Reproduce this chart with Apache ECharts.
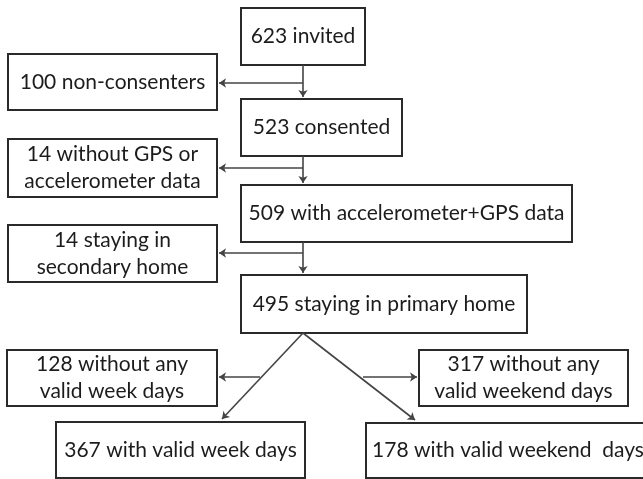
<!DOCTYPE html>
<html>
<head>
<meta charset="utf-8">
<script src="https://cdn.jsdelivr.net/npm/echarts@6/dist/echarts.min.js"></script>
<style>html,body{margin:0;padding:0;background:#fff}#c{width:643px;height:479px}</style>
</head>
<body>
<div id="c"></div>
<script>
// Flow counts and descriptions
const counts = [623, 100, 523, 14, 509, 14, 495, 128, 317, 367, 178];
const descriptions = [
  'invited',
  'non-consenters',
  'consented',
  'without GPS or\naccelerometer data',
  'with accelerometer+GPS data',
  'staying in\nsecondary home',
  'staying in primary home',
  'without any\nvalid week days',
  'without any\nvalid weekend days',
  'with valid week days',
  'with valid weekend  days'
];

// Layout (chart units: x 0..643, y 0..479 downward)
const boxLayout = [
  [241, 8, 365, 65],
  [8, 54, 217, 110],
  [241, 99, 402, 156],
  [8, 139, 217, 197],
  [241, 185, 572, 242],
  [8, 225, 217, 282],
  [241, 275, 527, 333],
  [7, 350, 217, 406],
  [419, 350, 628, 406],
  [56, 422, 305, 478],
  [366, 423, 650, 478]
];
const arrowLayout = [
  [303, 65, 303, 97],
  [303, 83, 219, 83],
  [303, 156, 303, 183],
  [303, 168, 219, 168],
  [303, 242, 303, 273],
  [303, 253, 219, 253],
  [303, 333, 222, 419],
  [303, 333, 415, 420],
  [260, 377, 219, 377],
  [363, 377, 417, 377]
];

const boxData = boxLayout.map((b, i) => ({
  value: b,
  label: counts[i] + ' ' + descriptions[i]
}));

const chart = echarts.init(document.getElementById('c'), null, {renderer: 'canvas'});
chart.setOption({
  animation: false,
  backgroundColor: '#fff',
  grid: {left: 0, right: 0, top: 0, bottom: 0},
  xAxis: {type: 'value', min: 0, max: 643, show: false},
  yAxis: {type: 'value', min: 0, max: 479, inverse: true, show: false},
  series: [
    {
      type: 'custom',
      coordinateSystem: 'cartesian2d',
      z: 2,
      encode: {x: [0, 2], y: [1, 3]},
      data: boxData,
      renderItem: function (params, api) {
        const p0 = api.coord([api.value(0), api.value(1)]);
        const p1 = api.coord([api.value(2), api.value(3)]);
        const item = boxData[params.dataIndex];
        return {
          type: 'rect',
          shape: {x: p0[0], y: p0[1], width: p1[0] - p0[0], height: p1[1] - p0[1]},
          style: {fill: '#fff', stroke: '#2a2a2a', lineWidth: 2},
          textContent: {
            style: {
              text: item.label,
              font: '21px Lato',
              fill: '#1c1c1c',
              align: 'center',
              verticalAlign: 'middle',
              lineHeight: 27
            }
          },
          textConfig: {position: 'inside'}
        };
      }
    },
    {
      type: 'lines',
      coordinateSystem: 'cartesian2d',
      z: 3,
      symbol: ['none', 'arrow'],
      symbolSize: 7,
      lineStyle: {color: '#444', width: 1.6, opacity: 1},
      data: arrowLayout.map(a => ({coords: [[a[0], a[1]], [a[2], a[3]]]}))
    }
  ]
});
</script>
</body>
</html>
